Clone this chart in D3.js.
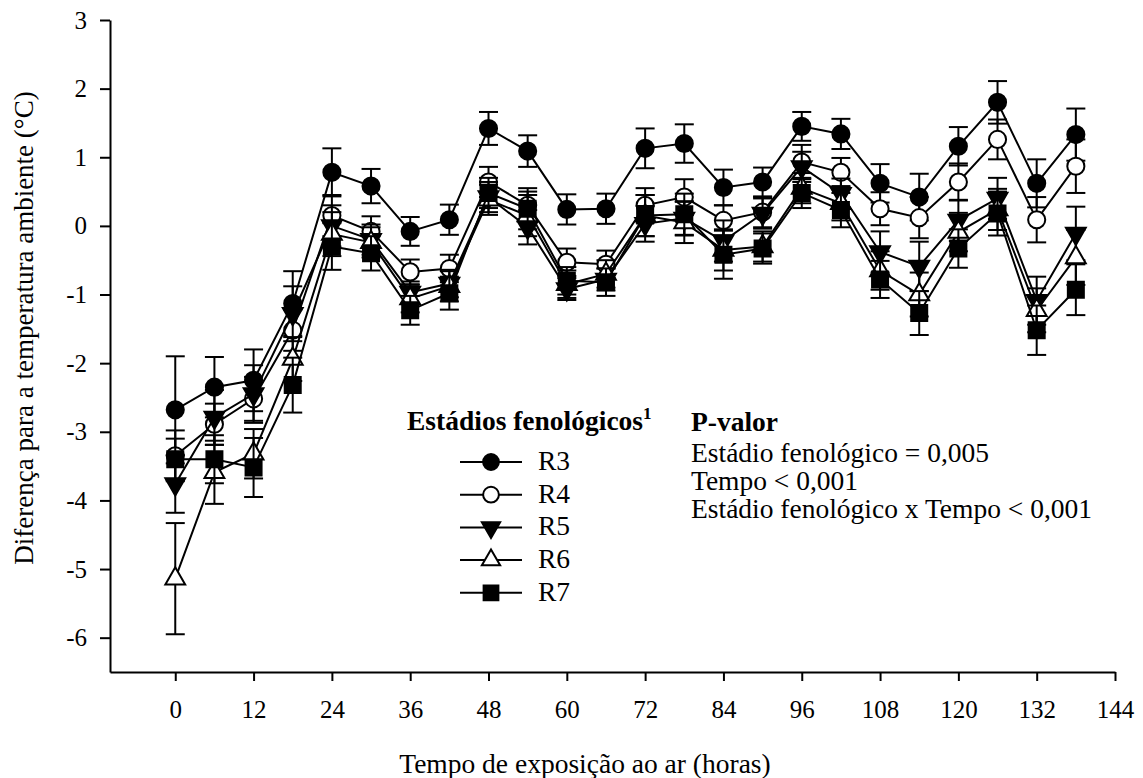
<!DOCTYPE html>
<meta charset="utf-8">
<script src="https://d3js.org/d3.v7.min.js"></script>
<style>
body { margin: 0; background: #fff; }
svg { display: block; font-family: "Liberation Serif", "Times New Roman", serif; }
</style>
<body></body>
<script>

// time of exposure (hours)
var hours = [0, 6, 12, 18, 24, 30, 36, 42, 48, 54, 60, 66, 72, 78, 84, 90, 96, 102, 108, 114, 120, 126, 132, 138];
var xTicks = [0, 12, 24, 36, 48, 60, 72, 84, 96, 108, 120, 132, 144];
var yTicks = [-6, -5, -4, -3, -2, -1, 0, 1, 2, 3];

// means per phenological stage
var r3 = [-2.68, -2.35, -2.25, -1.13, 0.78, 0.58, -0.08, 0.09, 1.42, 1.09, 0.24, 0.25, 1.13, 1.20, 0.56, 0.64, 1.45, 1.34, 0.62, 0.42, 1.16, 1.80, 0.62, 1.33];
var r4 = [-3.35, -2.89, -2.52, -1.52, 0.15, -0.08, -0.67, -0.62, 0.64, 0.30, -0.53, -0.56, 0.30, 0.42, 0.08, 0.20, 0.93, 0.78, 0.25, 0.12, 0.64, 1.26, 0.09, 0.87];
var r5 = [-3.76, -2.79, -2.45, -1.28, 0.00, -0.20, -0.97, -0.84, 0.42, -0.02, -0.92, -0.78, 0.03, 0.11, -0.22, 0.18, 0.86, 0.47, -0.38, -0.59, 0.08, 0.40, -1.09, -0.11];
var r6 = [-5.14, -3.59, -3.32, -1.94, -0.12, -0.24, -1.06, -0.88, 0.38, 0.15, -0.85, -0.70, 0.15, 0.05, -0.35, -0.30, 0.55, 0.33, -0.65, -1.00, -0.09, 0.24, -1.23, -0.46];
var r7 = [-3.40, -3.40, -3.52, -2.32, -0.30, -0.40, -1.23, -0.98, 0.48, 0.25, -0.80, -0.82, 0.15, 0.17, -0.42, -0.33, 0.48, 0.23, -0.78, -1.27, -0.33, 0.18, -1.52, -0.93];

// standard errors
var r3se = [0.78, 0.44, 0.45, 0.47, 0.35, 0.25, 0.21, 0.22, 0.24, 0.23, 0.22, 0.22, 0.29, 0.28, 0.26, 0.21, 0.21, 0.22, 0.28, 0.34, 0.28, 0.31, 0.35, 0.38];
var r4se = [0.37, 0.30, 0.32, 0.30, 0.30, 0.22, 0.18, 0.20, 0.22, 0.20, 0.20, 0.20, 0.25, 0.26, 0.22, 0.22, 0.25, 0.21, 0.24, 0.30, 0.27, 0.29, 0.33, 0.39];
var r5se = [0.42, 0.40, 0.42, 0.40, 0.30, 0.22, 0.16, 0.20, 0.22, 0.25, 0.16, 0.16, 0.26, 0.25, 0.30, 0.22, 0.22, 0.22, 0.30, 0.36, 0.30, 0.30, 0.35, 0.39];
var r6se = [0.81, 0.46, 0.36, 0.32, 0.32, 0.22, 0.20, 0.22, 0.22, 0.30, 0.20, 0.20, 0.30, 0.30, 0.30, 0.22, 0.22, 0.25, 0.28, 0.32, 0.28, 0.30, 0.32, 0.40];
var r7se = [0.30, 0.35, 0.43, 0.40, 0.34, 0.25, 0.21, 0.24, 0.22, 0.30, 0.20, 0.20, 0.30, 0.30, 0.35, 0.22, 0.22, 0.25, 0.27, 0.32, 0.28, 0.32, 0.36, 0.37];

var pLines = ["Estádio fenológico = 0,005", "Tempo < 0,001", "Estádio fenológico x Tempo < 0,001"];

var width = 1143;
var height = 778;
var serif = "Liberation Serif, Times New Roman, serif";

var svg = d3.select("body").append("svg")
  .attr("width", width)
  .attr("height", height);

svg.append("rect").attr("width", width).attr("height", height).attr("fill", "#fff");

var x = d3.scaleLinear().domain([-10, 144]).range([110, 1115]);
var y = d3.scaleLinear().domain([-6.5, 3]).range([672, 20]);

// axes
var xAxis = svg.append("g")
  .attr("transform", "translate(0," + y(-6.5) + ")")
  .call(d3.axisBottom(x).tickValues(xTicks).tickSize(9).tickPadding(19).tickSizeOuter(0));

var yAxis = svg.append("g")
  .attr("transform", "translate(" + x(-10) + ",0)")
  .call(d3.axisLeft(y).tickValues(yTicks).tickSize(10).tickPadding(13).tickSizeOuter(0)
    .tickFormat(function(d) { return String(d); }));

[xAxis, yAxis].forEach(function(a) {
  a.attr("font-family", serif).attr("font-size", 25);
  a.selectAll("path, line").attr("stroke", "#000").attr("stroke-width", 2);
  a.selectAll("text").attr("fill", "#000");
});

// axis titles
svg.append("text")
  .attr("x", 585).attr("y", 773)
  .attr("text-anchor", "middle")
  .attr("font-size", 27.5)
  .text("Tempo de exposição ao ar (horas)");

svg.append("text")
  .attr("transform", "translate(33,328) rotate(-90)")
  .attr("text-anchor", "middle")
  .attr("font-size", 27)
  .text("Diferença para a temperatura ambiente (°C)");

// series
var series = [
  { name: "R3", values: r3, se: r3se, shape: d3.symbolCircle, size: 230, fill: "#000", rot: 0 },
  { name: "R4", values: r4, se: r4se, shape: d3.symbolCircle, size: 230, fill: "#fff", rot: 0 },
  { name: "R5", values: r5, se: r5se, shape: d3.symbolTriangle, size: 170, fill: "#000", rot: 180 },
  { name: "R6", values: r6, se: r6se, shape: d3.symbolTriangle, size: 170, fill: "#fff", rot: 0 },
  { name: "R7", values: r7, se: r7se, shape: d3.symbolSquare, size: 256, fill: "#000", rot: 0 }
];

var line = d3.line()
  .x(function(d) { return x(d.h); })
  .y(function(d) { return y(d.v); });

series.forEach(function(s) {
  var pts = hours.map(function(h, i) { return { h: h, v: s.values[i], e: s.se[i] }; });
  var g = svg.append("g").attr("class", "series");

  var eb = g.selectAll(".err").data(pts).enter().append("g").attr("class", "err")
    .attr("stroke", "#000").attr("stroke-width", 2);
  eb.append("line")
    .attr("x1", function(d) { return x(d.h); }).attr("x2", function(d) { return x(d.h); })
    .attr("y1", function(d) { return y(d.v - d.e); }).attr("y2", function(d) { return y(d.v + d.e); });
  eb.append("line")
    .attr("x1", function(d) { return x(d.h) - 9.5; }).attr("x2", function(d) { return x(d.h) + 9.5; })
    .attr("y1", function(d) { return y(d.v + d.e); }).attr("y2", function(d) { return y(d.v + d.e); });
  eb.append("line")
    .attr("x1", function(d) { return x(d.h) - 9.5; }).attr("x2", function(d) { return x(d.h) + 9.5; })
    .attr("y1", function(d) { return y(d.v - d.e); }).attr("y2", function(d) { return y(d.v - d.e); });

  g.append("path").datum(pts)
    .attr("fill", "none").attr("stroke", "#000").attr("stroke-width", 2)
    .attr("d", line);

  g.selectAll(".sym").data(pts).enter().append("path")
    .attr("class", "sym")
    .attr("d", d3.symbol().type(s.shape).size(s.size))
    .attr("transform", function(d) { return "translate(" + x(d.h) + "," + y(d.v) + ") rotate(" + s.rot + ")"; })
    .attr("fill", s.fill).attr("stroke", "#000").attr("stroke-width", 2);
});

// legend
var legend = svg.append("g");
var title = legend.append("text")
  .attr("x", 407).attr("y", 430)
  .attr("font-size", 27.5).attr("font-weight", "bold")
  .text("Estádios fenológicos");
title.append("tspan").attr("font-size", 17).attr("dy", -11).text("1");

var items = legend.selectAll(".item").data(series).enter().append("g")
  .attr("class", "item")
  .attr("transform", function(d, i) { return "translate(0," + (462 + i * 32.7) + ")"; });
items.append("line").attr("x1", 460).attr("x2", 522).attr("stroke", "#000").attr("stroke-width", 2);
items.append("path")
  .attr("d", function(d) { return d3.symbol().type(d.shape).size(d.size * 0.85)(); })
  .attr("transform", function(d) { return "translate(491,0) rotate(" + d.rot + ")"; })
  .attr("fill", function(d) { return d.fill; }).attr("stroke", "#000").attr("stroke-width", 2);
items.append("text")
  .attr("x", 538).attr("y", 8)
  .attr("font-size", 27.5)
  .text(function(d) { return d.name; });

// p-values
svg.append("text")
  .attr("x", 691).attr("y", 431)
  .attr("font-size", 27.5).attr("font-weight", "bold")
  .text("P-valor");
svg.selectAll(".pline").data(pLines).enter().append("text")
  .attr("class", "pline")
  .attr("x", 691).attr("y", function(d, i) { return 462 + i * 28; })
  .attr("font-size", 27.5)
  .text(function(d) { return d; });

</script>
